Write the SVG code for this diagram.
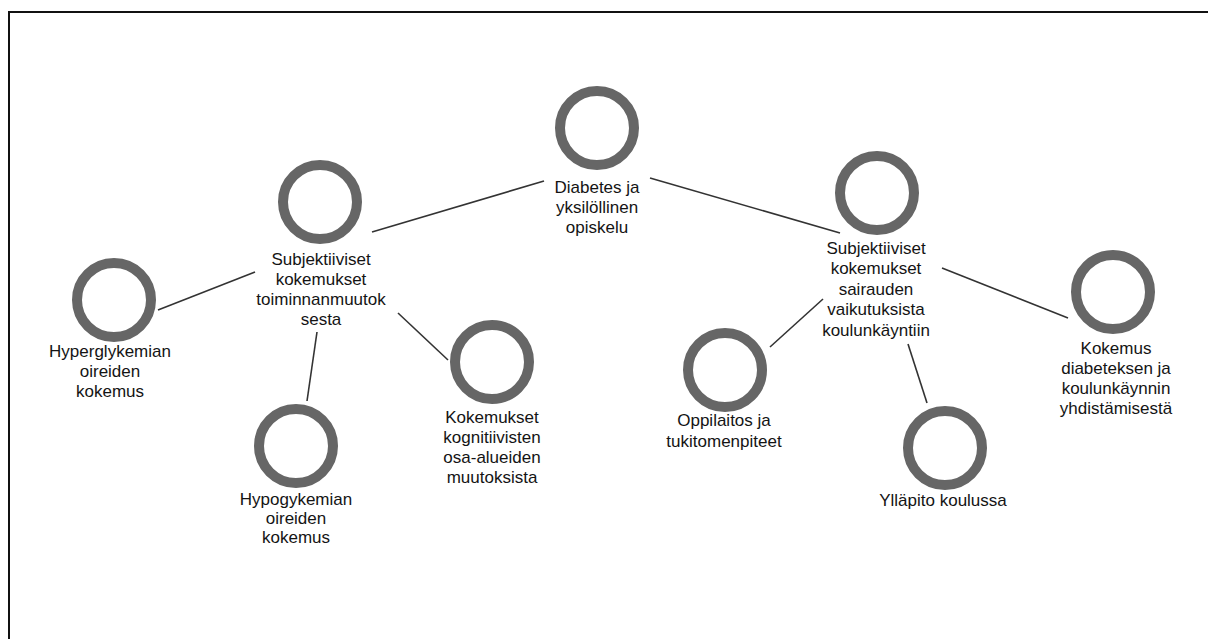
<svg xmlns="http://www.w3.org/2000/svg" width="1208" height="639" viewBox="0 0 1208 639">
  <style>
    .ring { fill: #ffffff; stroke: #666666; stroke-width: 10; }
    .lbl { font-family: "Liberation Sans", Arial, Helvetica, sans-serif; font-size: 17px; fill: #141414; text-anchor: middle; }
    .edge { stroke: #333333; stroke-width: 1.6; fill: none; }
  </style>
  <rect width="1208" height="639" fill="#ffffff"/>
  <!-- frame -->
  <path d="M9 639 V12 H1208" fill="none" stroke="#111111" stroke-width="2"/>

  <g id="connectors">
    <line class="edge" x1="544" y1="181" x2="372" y2="232"/>
    <line class="edge" x1="650" y1="178" x2="840" y2="233"/>
    <line class="edge" x1="255" y1="272" x2="158" y2="310"/>
    <line class="edge" x1="317" y1="332" x2="307" y2="401"/>
    <line class="edge" x1="398" y1="313" x2="448" y2="360"/>
    <line class="edge" x1="823" y1="299" x2="770" y2="347"/>
    <line class="edge" x1="908" y1="344" x2="927" y2="403"/>
    <line class="edge" x1="942" y1="268" x2="1068" y2="318"/>
  </g>

  <g id="n-diabetes">
    <circle class="ring" cx="597" cy="128" r="37"/>
    <text class="lbl" x="597" y="193">Diabetes ja</text>
    <text class="lbl" x="597" y="213">yksilöllinen</text>
    <text class="lbl" x="597" y="233">opiskelu</text>
  </g>

  <g id="n-toiminnanmuutos">
    <circle class="ring" cx="320" cy="202" r="37"/>
    <text class="lbl" x="321" y="265">Subjektiiviset</text>
    <text class="lbl" x="321" y="285">kokemukset</text>
    <text class="lbl" x="321" y="305">toiminnanmuutok</text>
    <text class="lbl" x="321" y="325">sesta</text>
  </g>

  <g id="n-hyperglykemia">
    <circle class="ring" cx="114" cy="300" r="37"/>
    <text class="lbl" x="110" y="357">Hyperglykemian</text>
    <text class="lbl" x="110" y="377">oireiden</text>
    <text class="lbl" x="110" y="397">kokemus</text>
  </g>

  <g id="n-hypoglykemia">
    <circle class="ring" cx="296" cy="446" r="37"/>
    <text class="lbl" x="296" y="505">Hypogykemian</text>
    <text class="lbl" x="296" y="524">oireiden</text>
    <text class="lbl" x="296" y="543">kokemus</text>
  </g>

  <g id="n-kognitiiviset">
    <circle class="ring" cx="492" cy="362" r="37"/>
    <text class="lbl" x="492" y="423">Kokemukset</text>
    <text class="lbl" x="492" y="443">kognitiivisten</text>
    <text class="lbl" x="492" y="463">osa-alueiden</text>
    <text class="lbl" x="492" y="483">muutoksista</text>
  </g>

  <g id="n-koulunkaynti">
    <circle class="ring" cx="877" cy="193" r="37"/>
    <text class="lbl" x="876" y="254">Subjektiiviset</text>
    <text class="lbl" x="876" y="274">kokemukset</text>
    <text class="lbl" x="876" y="295">sairauden</text>
    <text class="lbl" x="876" y="315">vaikutuksista</text>
    <text class="lbl" x="876" y="336">koulunkäyntiin</text>
  </g>

  <g id="n-oppilaitos">
    <circle class="ring" cx="725" cy="370" r="37"/>
    <text class="lbl" x="724" y="426">Oppilaitos ja</text>
    <text class="lbl" x="724" y="447">tukitomenpiteet</text>
  </g>

  <g id="n-yllapito">
    <circle class="ring" cx="945" cy="448" r="37"/>
    <text class="lbl" x="943" y="506">Ylläpito koulussa</text>
  </g>

  <g id="n-yhdistaminen">
    <circle class="ring" cx="1113" cy="292" r="37"/>
    <text class="lbl" x="1116" y="354">Kokemus</text>
    <text class="lbl" x="1116" y="374">diabeteksen ja</text>
    <text class="lbl" x="1116" y="394">koulunkäynnin</text>
    <text class="lbl" x="1116" y="414">yhdistämisestä</text>
  </g>
</svg>
